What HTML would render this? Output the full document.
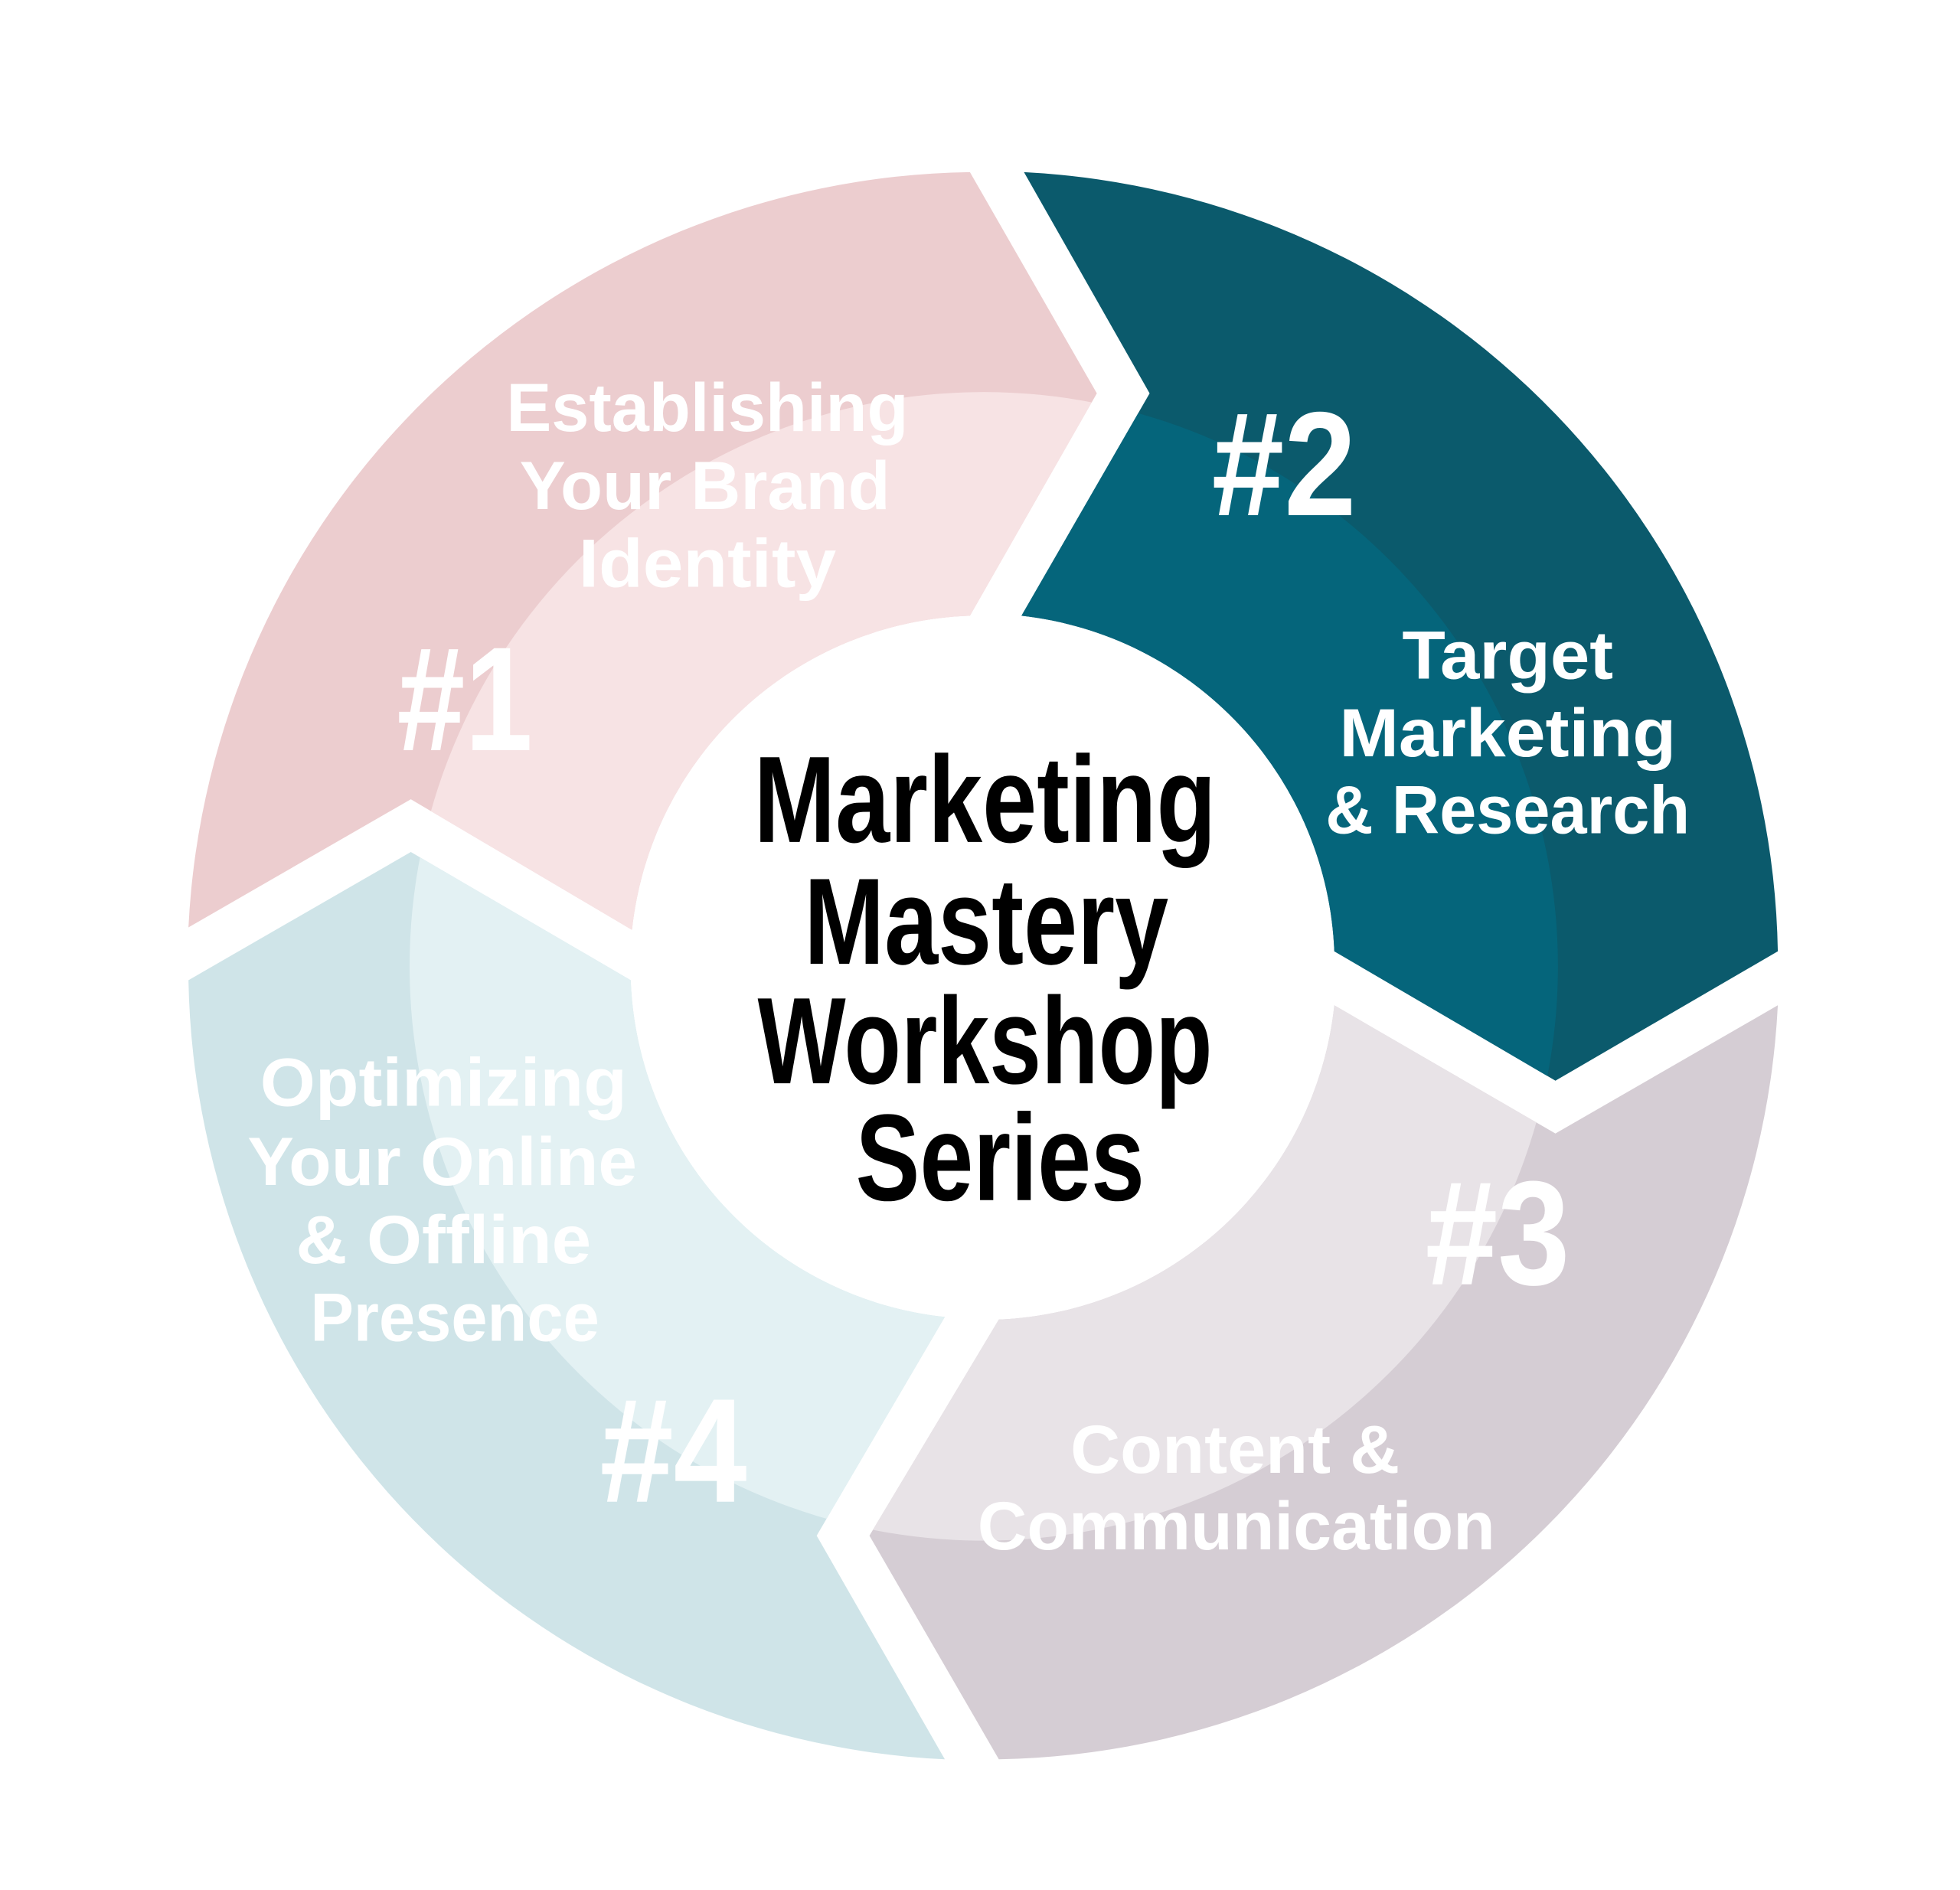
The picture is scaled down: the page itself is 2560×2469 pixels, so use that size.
<!DOCTYPE html>
<html><head><meta charset="utf-8"><style>
html,body{margin:0;padding:0;background:#fff;}
svg{display:block;}
.w{fill:#fff;font-family:"Liberation Sans","DejaVu Sans",sans-serif;font-weight:bold;text-anchor:middle;}
.t{fill:#000;font-family:"Liberation Sans Narrow","Liberation Sans",sans-serif;font-weight:bold;text-anchor:middle;}
</style></head><body>
<svg width="2560" height="2469" viewBox="0 0 1560 1504" preserveAspectRatio="none" xmlns="http://www.w3.org/2000/svg">
<defs>
<path id="s1" d="M150,738 A632,632 0 0 1 772,137 L873,313 L772,490 A280,280 0 0 0 503,740 L327,636 Z"/>
<path id="s2" d="M815,137 A632,632 0 0 1 1415,757 L1238,860 L1062,757 A280,280 0 0 0 813,490 L915,313 Z"/>
<path id="s3" d="M1415,800 A632,632 0 0 1 795,1400 L692,1222 L795,1050 A280,280 0 0 0 1062,800 L1238,902 Z"/>
<path id="s4" d="M752,1400 A632,632 0 0 1 150,780 L327,678 L502,780 A280,280 0 0 0 752,1048 L650,1222 Z"/>
<clipPath id="c1"><use href="#s1"/></clipPath>
<clipPath id="c2"><use href="#s2"/></clipPath>
<clipPath id="c3"><use href="#s3"/></clipPath>
<clipPath id="c4"><use href="#s4"/></clipPath>
</defs>
<use href="#s1" fill="#ECCDCF"/>
<circle cx="783" cy="769" r="457" fill="#F7E3E4" clip-path="url(#c1)"/>
<use href="#s2" fill="#0B5A6C"/>
<circle cx="783" cy="769" r="457" fill="#05657B" clip-path="url(#c2)"/>
<use href="#s3" fill="#D5CDD4"/>
<circle cx="783" cy="769" r="457" fill="#E8E3E7" clip-path="url(#c3)"/>
<use href="#s4" fill="#CFE4E8"/>
<circle cx="783" cy="769" r="457" fill="#E3F1F3" clip-path="url(#c4)"/>

<g class="w" font-size="54">
<text x="563" y="343" textLength="320" lengthAdjust="spacingAndGlyphs">Establishing</text>
<text x="561" y="405" textLength="295" lengthAdjust="spacingAndGlyphs">Your Brand</text>
<text x="563" y="467" textLength="205" lengthAdjust="spacingAndGlyphs">Identity</text>
<text x="1200" y="540" textLength="168" lengthAdjust="spacingAndGlyphs">Target</text>
<text x="1200" y="602" textLength="268" lengthAdjust="spacingAndGlyphs">Marketing</text>
<text x="1200" y="663" textLength="290" lengthAdjust="spacingAndGlyphs">&amp; Research</text>
<text x="983" y="1172" textLength="262" lengthAdjust="spacingAndGlyphs">Content &amp;</text>
<text x="984" y="1233" textLength="412" lengthAdjust="spacingAndGlyphs">Communication</text>
<text x="353" y="880" textLength="292" lengthAdjust="spacingAndGlyphs">Optimizing</text>
<text x="352" y="943" textLength="310" lengthAdjust="spacingAndGlyphs">Your Online</text>
<text x="353" y="1005" textLength="235" lengthAdjust="spacingAndGlyphs">&amp; Offline</text>
<text x="362" y="1067" textLength="230" lengthAdjust="spacingAndGlyphs">Presence</text>
</g>
<g class="w" font-size="118">
<text x="370" y="597" textLength="108" lengthAdjust="spacingAndGlyphs">#1</text>
<text x="1022" y="410" textLength="115" lengthAdjust="spacingAndGlyphs">#2</text>
<text x="1192" y="1022" textLength="115" lengthAdjust="spacingAndGlyphs">#3</text>
<text x="536" y="1195" textLength="117" lengthAdjust="spacingAndGlyphs">#4</text>
</g>
<g class="t" font-size="98">
<text x="784" y="670" textLength="368" lengthAdjust="spacingAndGlyphs">Marketing</text>
<text x="785" y="767" textLength="290" lengthAdjust="spacingAndGlyphs">Mastery</text>
<text x="784" y="862" textLength="362" lengthAdjust="spacingAndGlyphs">Workshop</text>
<text x="796" y="955" textLength="230" lengthAdjust="spacingAndGlyphs">Series</text>
</g>
</svg>
</body></html>
